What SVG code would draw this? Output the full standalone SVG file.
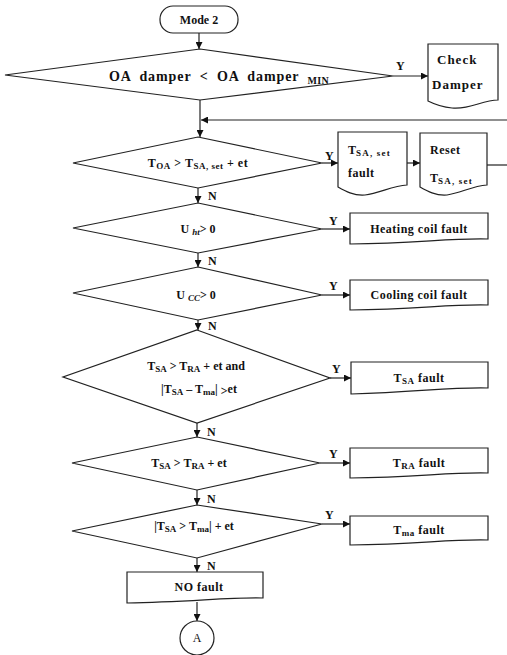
<svg xmlns="http://www.w3.org/2000/svg" width="507" height="655" viewBox="0 0 507 655">
<defs>
<marker id="ah" viewBox="0 0 8 8" refX="8" refY="4" markerWidth="7" markerHeight="7" markerUnits="userSpaceOnUse" orient="auto">
<path d="M0,0 L8,4 L0,8 z" fill="#111"/>
</marker>
<style>
.s{fill:#fff;stroke:#222;stroke-width:1.2}
.c{fill:none;stroke:#222;stroke-width:1.2}
.a{marker-end:url(#ah)}
text{font-family:"Liberation Serif","DejaVu Serif",serif;font-weight:bold;font-size:12px;fill:#111}
.m{text-anchor:middle}
.sb{font-size:9px}
.it{font-style:italic}
.bx{letter-spacing:0.5px}
.ws{letter-spacing:1.2px}
.cd{font-size:13px;letter-spacing:1px}
.big{font-size:14px;letter-spacing:0.9px;word-spacing:4px}
.bsb{font-size:10px;letter-spacing:0.3px}
</style>
</defs>
<rect width="507" height="655" fill="#fff"/>
<g id="connectors">
<path class="c a" d="M199,33 V49"/>
<path class="c a" d="M393,76 H428"/>
<path class="c a" d="M200,100 V137"/>
<path class="c a" d="M507,120 H201"/>
<path class="c a" d="M322,163 H338"/>
<path class="c a" d="M407,163 H420"/>
<path class="c" d="M487,165 H507"/>
<path class="c a" d="M198,188 V203"/>
<path class="c a" d="M322,229 H350"/>
<path class="c a" d="M198,253 V267"/>
<path class="c a" d="M322,295 H350"/>
<path class="c a" d="M198,320 V330"/>
<path class="c a" d="M330,378 H351"/>
<path class="c a" d="M197,423 V437"/>
<path class="c a" d="M320,463 H350"/>
<path class="c a" d="M197,490 V505"/>
<path class="c a" d="M322,524 H350"/>
<path class="c a" d="M197,558 V572"/>
<path class="c a" d="M197,602 V621"/>
<text x="396" y="70">Y</text>
<text x="325" y="160">Y</text>
<text x="329" y="225">Y</text>
<text x="329" y="290">Y</text>
<text x="332" y="373">Y</text>
<text x="329" y="458">Y</text>
<text x="325" y="519">Y</text>
<text x="208" y="200">N</text>
<text x="208" y="265">N</text>
<text x="208" y="330">N</text>
<text x="207" y="436">N</text>
<text x="207" y="503">N</text>
<text x="207" y="570">N</text>
</g>
<g id="mode2">
<rect class="s" x="160" y="6" width="78" height="27" rx="13"/>
<text class="m" x="199" y="24">Mode 2</text>
</g>
<g id="d1">
<path class="s" d="M200,49 L393,76 L200,100 L5,75 Z"/>
<text class="big" x="109" y="81">OA damper &lt; OA damper <tspan class="bsb" dy="3">MIN</tspan></text>
</g>
<g id="checkDamper">
<path class="s" d="M428,44 H498 V100 C482,100 470,110 452,108 C441,107 434,104 428,101 Z"/>
<text class="cd" x="437" y="64">Check</text>
<text class="cd" x="432" y="89">Damper</text>
</g>
<g id="d2">
<path class="s" d="M198,137 L322,163 L198,188 L73,163 Z"/>
<text class="m bx" x="198" y="167">T<tspan class="sb" dy="2">OA</tspan><tspan dy="-2"> &gt; T</tspan><tspan class="sb" dy="2">SA, set</tspan><tspan dy="-2"> + et</tspan></text>
</g>
<g id="tsaSetFault">
<path class="s" d="M338,132 H407 V185 C392,186 380,193 365,195 C354,196 345,191 338,187 Z"/>
<text x="348" y="154">T<tspan class="sb ws" dy="2">SA, set</tspan></text>
<text class="bx" x="348" y="177">fault</text>
</g>
<g id="resetTsaSet">
<path class="s" d="M420,133 H487 V185 C472,186 461,193 447,195 C436,196 427,191 420,187 Z"/>
<text class="bx" x="430" y="154">Reset</text>
<text x="430" y="182">T<tspan class="sb ws" dy="2">SA, set</tspan></text>
</g>
<g id="d3">
<path class="s" d="M198,203 L322,229 L198,253 L73,228 Z"/>
<text class="m" x="198" y="233">U <tspan class="sb it" dy="2">ht</tspan><tspan dy="-2">&gt; 0</tspan></text>
</g>
<g id="heatingCoilFault">
<path class="s" d="M350,213 H488 V239 C450,238 420,243 350,244 Z"/>
<text class="m bx" x="419" y="233">Heating coil fault</text>
</g>
<g id="d4">
<path class="s" d="M198,267 L322,295 L198,320 L73,293 Z"/>
<text class="m" x="196" y="299">U <tspan class="sb it" dy="2">CC</tspan><tspan dy="-2">&gt; 0</tspan></text>
</g>
<g id="coolingCoilFault">
<path class="s" d="M350,280 H488 V305 C450,304 420,309 350,310 Z"/>
<text class="m bx" x="419" y="299">Cooling coil fault</text>
</g>
<g id="d5">
<path class="s" d="M197,330 L330,378 L197,423 L63,377 Z"/>
<text class="m" x="196" y="370">T<tspan class="sb" dy="2">SA</tspan><tspan dy="-2"> &gt; T</tspan><tspan class="sb" dy="2">RA</tspan><tspan dy="-2"> + et and</tspan></text>
<text class="m" x="199" y="393">|T<tspan class="sb" dy="2">SA</tspan><tspan dy="-2"> – T</tspan><tspan class="sb" dy="2">ma</tspan><tspan dy="-2">| </tspan><tspan dy="2">&gt;</tspan><tspan dy="-2">et</tspan></text>
</g>
<g id="tsaFault">
<path class="s" d="M351,362 H488 V388 C450,387 420,392 351,394 Z"/>
<text class="m bx" x="419" y="382">T<tspan class="sb" dy="2">SA</tspan><tspan dy="-2"> fault</tspan></text>
</g>
<g id="d6">
<path class="s" d="M197,437 L320,463 L197,490 L72,463 Z"/>
<text class="m" x="189" y="467">T<tspan class="sb" dy="2">SA</tspan><tspan dy="-2"> &gt; T</tspan><tspan class="sb" dy="2">RA</tspan><tspan dy="-2"> + et</tspan></text>
</g>
<g id="traFault">
<path class="s" d="M350,448 H488 V473 C450,472 420,477 350,478 Z"/>
<text class="m bx" x="419" y="467">T<tspan class="sb" dy="2">RA</tspan><tspan dy="-2"> fault</tspan></text>
</g>
<g id="d7">
<path class="s" d="M197,505 L322,524 L197,558 L72,531 Z"/>
<text class="m" x="194" y="530">|T<tspan class="sb" dy="2">SA</tspan><tspan dy="-2"> &gt; T</tspan><tspan class="sb" dy="2">ma</tspan><tspan dy="-2">| + et</tspan></text>
</g>
<g id="tmaFault">
<path class="s" d="M350,516 H488 V540 C450,539 420,544 350,545 Z"/>
<text class="m bx" x="419" y="534">T<tspan class="sb" dy="2">ma</tspan><tspan dy="-2"> fault</tspan></text>
</g>
<g id="noFault">
<path class="s" d="M127,572 H263 V598 C230,597 190,602 127,603 Z"/>
<text class="m bx" x="199" y="591">NO fault</text>
</g>
<g id="connectorA">
<circle class="s" cx="197" cy="638" r="17"/>
<text class="m" x="197" y="642" style="font-weight:normal">A</text>
</g>
</svg>
